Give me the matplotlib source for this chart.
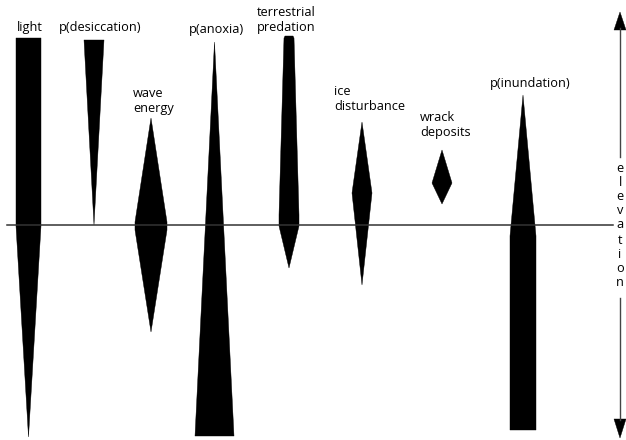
import matplotlib
matplotlib.use("Agg")
import matplotlib.pyplot as plt
from matplotlib.patches import Polygon

plt.rcParams['font.family'] = ['Open Sans', 'DejaVu Sans']

# Factors along the elevation gradient (pixel-like diagram units; y grows downward)
names = ["light", "p(desiccation)", "wave\nenergy", "p(anoxia)",
         "terrestrial\npredation", "ice\ndisturbance", "wrack\ndeposits", "p(inundation)"]
centers = [28.5, 94, 151, 214.5, 289, 362, 442, 523]
# profiles: elevation (y) levels and half-widths at those levels
prof_y = [
    [38, 226, 437],
    [40, 225],
    [118, 222, 230, 332],
    [42, 436],
    [36, 38, 215, 226, 268],
    [122, 193, 285],
    [150, 183, 204],
    [95, 236, 430],
]
prof_w = [
    [12.5, 12.5, 0],
    [10, 0],
    [0, 16, 16, 0],
    [0, 19.5],
    [4, 5, 10, 10, 0],
    [0, 10, 0],
    [0, 10, 0],
    [0, 13, 13],
]
label_xy = [(29.5, 27), (100, 28), (133, 101), (216, 30),
            (257, 20), (334, 99), (420, 125), (530, 83)]
label_ha = ["center", "center", "left", "center", "left", "left", "left", "center"]

axis_letters = list("elevation")
axis_letter_y = [168, 183, 197, 211, 225, 240, 254, 268, 282]

fig = plt.figure(figsize=(6.26, 4.40), dpi=100)
ax = fig.add_axes([0, 0, 1, 1])
ax.set_xlim(0, 626)
ax.set_ylim(440, 0)
ax.axis('off')

for cx, ys, ws in zip(centers, prof_y, prof_w):
    right = [(cx + w, y) for y, w in zip(ys, ws)]
    left = [(cx - w, y) for y, w in zip(ys[::-1], ws[::-1])]
    pts = right + left
    ax.add_patch(Polygon(pts, closed=True, facecolor='black', edgecolor='black', lw=0.3))

for name, (lx, ly), ha in zip(names, label_xy, label_ha):
    ax.text(lx, ly, name, ha=ha, va='center', fontsize=9.2, color='black', linespacing=1.25)

# horizontal reference line
ax.plot([7, 613], [225.5, 225.5], color='#333333', lw=1.1)

# elevation axis
ax.plot([620, 620], [28, 157], color='#444444', lw=1.0)
ax.plot([620, 620], [298, 420], color='#444444', lw=1.0)
ax.add_patch(Polygon([(620, 12), (614, 30), (626, 30)], closed=True, facecolor='black', edgecolor='black', lw=0.3))
ax.add_patch(Polygon([(620, 438), (614, 419), (626, 419)], closed=True, facecolor='black', edgecolor='black', lw=0.3))
for ch, yy in zip(axis_letters, axis_letter_y):
    ax.text(620, yy, ch, ha='center', va='center', fontsize=9.2, color='black')

fig.savefig("out.png", dpi=100)
